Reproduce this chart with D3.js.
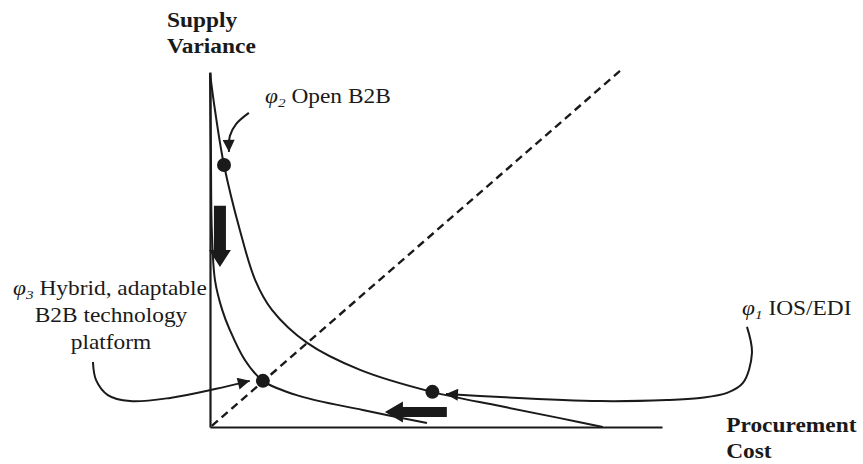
<!DOCTYPE html>
<html>
<head>
<meta charset="utf-8">
<script src="https://cdn.jsdelivr.net/npm/d3@7"></script>
<style>
  html, body { margin: 0; padding: 0; background: #fff; }
  svg { display: block; }
  text { font-family: "Liberation Serif", "Times New Roman", serif; fill: #1a1a1a; }
</style>
</head>
<body>
<svg id="chart" width="863" height="464"></svg>
<script>
// ---- data (conceptual units, 0..100 on both axes) ----
const upperCurve = [ // phi2 Open B2B -> phi1 IOS/EDI frontier
  [0, 99.7], [1.1, 89.3], [3.1, 73.8], [6.6, 55.5], [10.0, 41.4], [13.7, 33.0],
  [21.5, 23.7], [33.2, 16.1], [49.1, 9.9], [64.2, 5.9], [77.4, 2.5], [86.9, 0]
];
const lowerCurve = [ // phi3 hybrid frontier
  [0, 99.7], [0.2, 78.0], [0.4, 55.5], [1.1, 41.4], [2.7, 33.0], [4.4, 27.3],
  [7.7, 18.9], [11.7, 13.0], [19.9, 8.7], [33.8, 4.8], [48.0, 1.1]
];
const diagonal = [[0.4, 0.3], [90.7, 100.3]];
const points = [
  { name: "phi2", x: 3.1, y: 73.8 },
  { name: "phi3", x: 11.7, y: 13.0 },
  { name: "phi1", x: 49.2, y: 9.9 }
];
const callouts = [
  [[8.6, 88.5], [5.8, 85.4], [4.4, 82.0], [4.2, 79.2], [4.2, 77.5]],
  [[-25.9, 18.3], [-25.2, 13.2], [-22.6, 9.0], [-17.7, 7.3], [-8.8, 8.2], [1.1, 10.7], [8.8, 13.0]],
  [[118.8, 28.2], [119.9, 20.8], [117.9, 12.4], [114.4, 9.6], [108.4, 8.2], [101.1, 7.6], [86.3, 7.3], [52.2, 9.3]]
];
const moveArrows = [ // big block arrows: from -> to
  { from: [2.2, 62.3], to: [2.2, 45.1] },
  { from: [52.4, 4.2], to: [38.7, 4.2] }
];
const axisLabels = [
  { lines: ["Supply", "Variance"], x: -9.5, y: 112.6 },
  { lines: ["Procurement", "Cost"], x: 114.2, y: -1.4 }
];

// ---- scales ----
const svg = d3.select("#chart");
const x = d3.scaleLinear().domain([0, 100]).range([210, 662]);
const y = d3.scaleLinear().domain([0, 100]).range([427, 72]);
const ink = "#1a1a1a";

// arrowhead marker
svg.append("defs").append("marker")
  .attr("id", "head").attr("viewBox", "0 0 10 10")
  .attr("refX", 10).attr("refY", 5)
  .attr("markerWidth", 14).attr("markerHeight", 12)
  .attr("markerUnits", "userSpaceOnUse").attr("orient", "auto")
  .append("path").attr("d", "M0,0 L10,5 L0,10 Z").attr("fill", ink);

// axes (no ticks)
const gx = svg.append("g").attr("transform", `translate(0,${y(0)})`)
  .call(d3.axisBottom(x).ticks(0).tickSizeOuter(0));
const gy = svg.append("g").attr("transform", `translate(${x(0)},0)`)
  .call(d3.axisLeft(y).ticks(0).tickSizeOuter(0));
[gx, gy].forEach(g => g.select(".domain").attr("stroke", ink).attr("stroke-width", 2.2));

// dashed diagonal
svg.append("path")
  .attr("d", d3.line().x(d => x(d[0])).y(d => y(d[1]))(diagonal))
  .attr("fill", "none").attr("stroke", ink).attr("stroke-width", 2.4)
  .attr("stroke-dasharray", "8,5");

// frontier curves
const curveLine = d3.line().x(d => x(d[0])).y(d => y(d[1])).curve(d3.curveCatmullRom.alpha(0.5));
[upperCurve, lowerCurve].forEach(c => {
  svg.append("path").attr("d", curveLine(c))
    .attr("fill", "none").attr("stroke", ink).attr("stroke-width", 2);
});

// callout arrows
callouts.forEach(c => {
  svg.append("path").attr("d", curveLine(c))
    .attr("fill", "none").attr("stroke", ink).attr("stroke-width", 2)
    .attr("marker-end", "url(#head)");
});

// points
svg.selectAll("circle.pt").data(points).join("circle")
  .attr("class", "pt").attr("cx", d => x(d.x)).attr("cy", d => y(d.y))
  .attr("r", 7).attr("fill", ink);

// block arrows
moveArrows.forEach(a => {
  const x0 = x(a.from[0]), y0 = y(a.from[1]), x1 = x(a.to[0]), y1 = y(a.to[1]);
  const len = Math.hypot(x1 - x0, y1 - y0);
  const ang = Math.atan2(y1 - y0, x1 - x0) * 180 / Math.PI;
  const vertical = Math.abs(y1 - y0) > Math.abs(x1 - x0);
  const sw = vertical ? 6 : 5, hw = vertical ? 11 : 10.5, hl = vertical ? 17 : 18;
  const p = [[0, -sw], [len - hl, -sw], [len - hl, -hw], [len, 0], [len - hl, hw], [len - hl, sw], [0, sw]];
  svg.append("path")
    .attr("d", "M" + p.map(q => q.join(",")).join("L") + "Z")
    .attr("transform", `translate(${x0},${y0}) rotate(${ang})`)
    .attr("fill", ink);
});

// axis labels (bold)
axisLabels.forEach(l => {
  l.lines.forEach((t, i) => {
    svg.append("text")
      .attr("transform", `translate(${x(l.x)},${y(l.y) + i * 26}) scale(1.17,1)`)
      .attr("font-size", 20).attr("font-weight", "bold").text(t);
  });
});

// series labels
function phiLabel(px, py, sub, rest) {
  const t = svg.append("text")
    .attr("transform", `translate(${px},${py}) scale(1.17,1)`)
    .attr("font-size", 20);
  t.append("tspan").attr("font-style", "italic").text("\u03C6");
  t.append("tspan").attr("font-style", "italic").attr("font-size", 13).attr("dy", 4).text(sub);
  t.append("tspan").attr("dy", -4).text(" " + rest);
  return t;
}
phiLabel(265, 103, "2", "Open B2B");
phiLabel(742, 315, "1", "IOS/EDI");
phiLabel(13, 295, "3", "Hybrid, adaptable");
["B2B technology", "platform"].forEach((t, i) => {
  svg.append("text")
    .attr("transform", `translate(111,${322 + i * 27}) scale(1.17,1)`)
    .attr("font-size", 20).attr("text-anchor", "middle").text(t);
});
</script>
</body>
</html>
